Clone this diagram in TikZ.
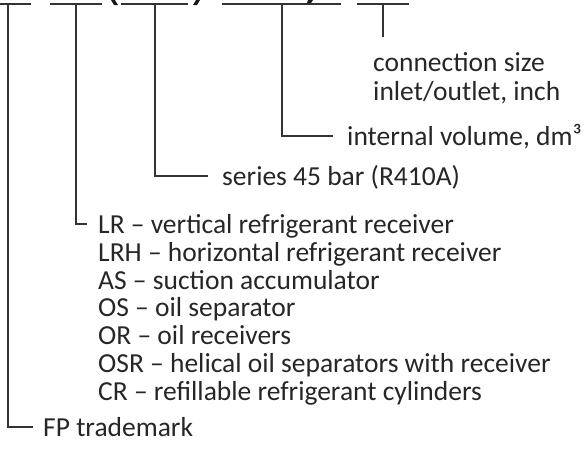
\documentclass[tikz,border=0pt]{standalone}
\usepackage{fontspec}
\setmainfont{Carlito}
\begin{document}
\begin{tikzpicture}[x=1pt,y=-1pt,
  conn/.style={draw=black!80,line width=1.3pt},
  lbl/.style={anchor=base west,inner sep=0pt,text=black!85,font=\fontsize{27.5}{27.8}\selectfont},
  frag/.style={fill=black!90,draw=none}]
\useasboundingbox (0,0) rectangle (585,448);
% cut-off glyph pieces at the top edge
\fill[frag] (111,0) -- (115,0) -- (118,5) -- (114,5) -- cycle;
\fill[frag] (196,0) -- (200,0) -- (197,5) -- (193,5) -- cycle;
\fill[frag] (308,0) -- (313,0) -- (311,3) -- (307,3) -- cycle;
% top bars
\coordinate (b1l) at (0,4);   \coordinate (b1r) at (31,4);
\coordinate (b2l) at (50,4);  \coordinate (b2r) at (102,4);
\coordinate (b3l) at (121,4); \coordinate (b3r) at (188,4);
\coordinate (b4l) at (222,4); \coordinate (b4r) at (341,4);
\coordinate (b5l) at (357,4); \coordinate (b5r) at (409,4);
\draw[conn] (b1l) -- (b1r);
\draw[conn] (b2l) -- (b2r);
\draw[conn] (b3l) -- (b3r);
\draw[conn] (b4l) -- (b4r);
\draw[conn] (b5l) -- (b5r);
% labels
\node[lbl] (cs) at (373,71) {connection size};
\node[lbl] (io) at (373,100) {inlet/outlet, inch};
\node[lbl] (iv) at (347,145) {internal volume, dm³};
\node[lbl] (sb) at (222,185) {series 45 bar (R410A)};
\node[lbl] (lr) at (98,233) {LR – vertical refrigerant receiver};
\node[lbl] (lrh) at (98,261) {LRH – horizontal refrigerant receiver};
\node[lbl] (as) at (98,289) {AS – suction accumulator};
\node[lbl] (os) at (98,316) {OS – oil separator};
\node[lbl] (or) at (98,344) {OR – oil receivers};
\node[lbl] (osr) at (98,372) {OSR – helical oil separators with receiver};
\node[lbl] (cr) at (98,400) {CR – refillable refrigerant cylinders};
\node[lbl] (fp) at (43,436) {FP trademark};
% stems
\coordinate (s5) at (383,4); \coordinate (e5) at (383,37);
\draw[conn] (s5) -- (e5);
\coordinate (s4) at (282,4); \coordinate (e4) at (333,136);
\draw[conn] (s4) |- (e4);
\coordinate (s3) at (155,4); \coordinate (e3) at (208,176);
\draw[conn] (s3) |- (e3);
\coordinate (s2) at (76,4); \coordinate (e2) at (87,224);
\draw[conn] (s2) |- (e2);
\coordinate (s1) at (8,4); \coordinate (e1) at (33,427);
\draw[conn] (s1) |- (e1);
\end{tikzpicture}
\end{document}
